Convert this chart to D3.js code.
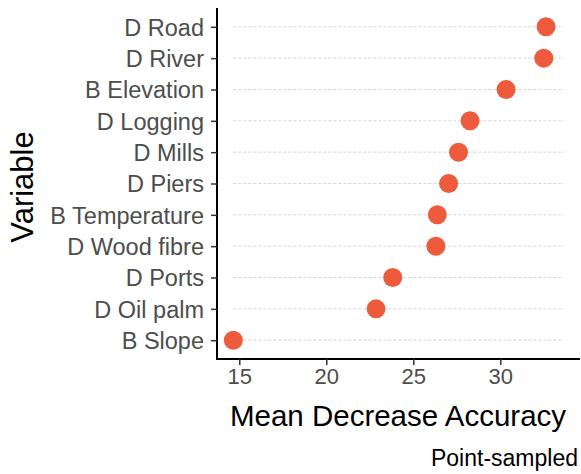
<!DOCTYPE html>
<html>
<head>
<meta charset="utf-8">
<script src="https://cdn.jsdelivr.net/npm/d3@7"></script>
<style>
  html, body { margin: 0; padding: 0; background: #fff; }
  svg { display: block; font-family: "Liberation Sans", Arial, sans-serif; }
</style>
</head>
<body>
<svg id="chart" width="581" height="474"></svg>
<script>
// Variable importance (mean decrease in accuracy), top to bottom
const variables = ["D Road", "D River", "B Elevation", "D Logging", "D Mills", "D Piers",
                   "B Temperature", "D Wood fibre", "D Ports", "D Oil palm", "B Slope"];
const accuracy = [32.63, 32.5, 30.33, 28.26, 27.6, 27.03, 26.38, 26.3, 23.82, 22.86, 14.66];
const xTicks = [15, 20, 25, 30];

const svg = d3.select("#chart");
const panel = { left: 217, right: 580, top: 8, bottom: 359 };

const x = d3.scaleLinear().domain([13.72, 34.58]).range([panel.left, panel.right]);
const y = d3.scalePoint().domain(variables).range([panel.top, panel.bottom]).padding(0.6);

// dashed guide lines behind the dots
svg.append("g")
  .selectAll("line")
  .data(variables)
  .join("line")
  .attr("x1", x(d3.min(accuracy)))
  .attr("x2", panel.right - 16)
  .attr("y1", d => y(d))
  .attr("y2", d => y(d))
  .attr("stroke", "#d6d6d6")
  .attr("stroke-width", 1)
  .attr("stroke-dasharray", "3,2");

// dots
svg.append("g")
  .selectAll("circle")
  .data(variables.map((v, i) => ({ v, a: accuracy[i] })))
  .join("circle")
  .attr("cx", d => x(d.a))
  .attr("cy", d => y(d.v))
  .attr("r", 9.5)
  .attr("fill", "#EE5A3C");

// y axis
const yAxis = svg.append("g")
  .attr("transform", `translate(${panel.left},0)`)
  .call(d3.axisLeft(y).tickSize(6).tickPadding(7));
yAxis.select(".domain").attr("stroke", "#000").attr("stroke-width", 2)
  .attr("d", `M0,${panel.top}V${panel.bottom}`);
yAxis.selectAll(".tick line").attr("stroke", "#333").attr("stroke-width", 1.5);
yAxis.selectAll(".tick text")
  .attr("fill", "#4d4d4d")
  .style("font-size", "23.5px")
  .attr("dy", "0.36em");

// x axis
const xAxis = svg.append("g")
  .attr("transform", `translate(0,${panel.bottom})`)
  .call(d3.axisBottom(x).tickValues(xTicks).tickSize(6).tickPadding(3));
xAxis.select(".domain").attr("stroke", "#000").attr("stroke-width", 2)
  .attr("d", `M${panel.left - 1},0H${panel.right}`);
xAxis.selectAll(".tick line").attr("stroke", "#333").attr("stroke-width", 1.5);
xAxis.selectAll(".tick text")
  .attr("fill", "#4d4d4d")
  .style("font-size", "22px");

// axis titles
svg.append("text")
  .attr("x", 398)
  .attr("y", 426)
  .attr("text-anchor", "middle")
  .style("font-size", "29.5px")
  .attr("fill", "#000")
  .text("Mean Decrease Accuracy");

svg.append("text")
  .attr("transform", "translate(33,187) rotate(-90)")
  .attr("text-anchor", "middle")
  .style("font-size", "31px")
  .attr("fill", "#000")
  .text("Variable");

// caption
svg.append("text")
  .attr("x", 578)
  .attr("y", 466)
  .attr("text-anchor", "end")
  .style("font-size", "23px")
  .attr("fill", "#000")
  .text("Point-sampled");
</script>
</body>
</html>
